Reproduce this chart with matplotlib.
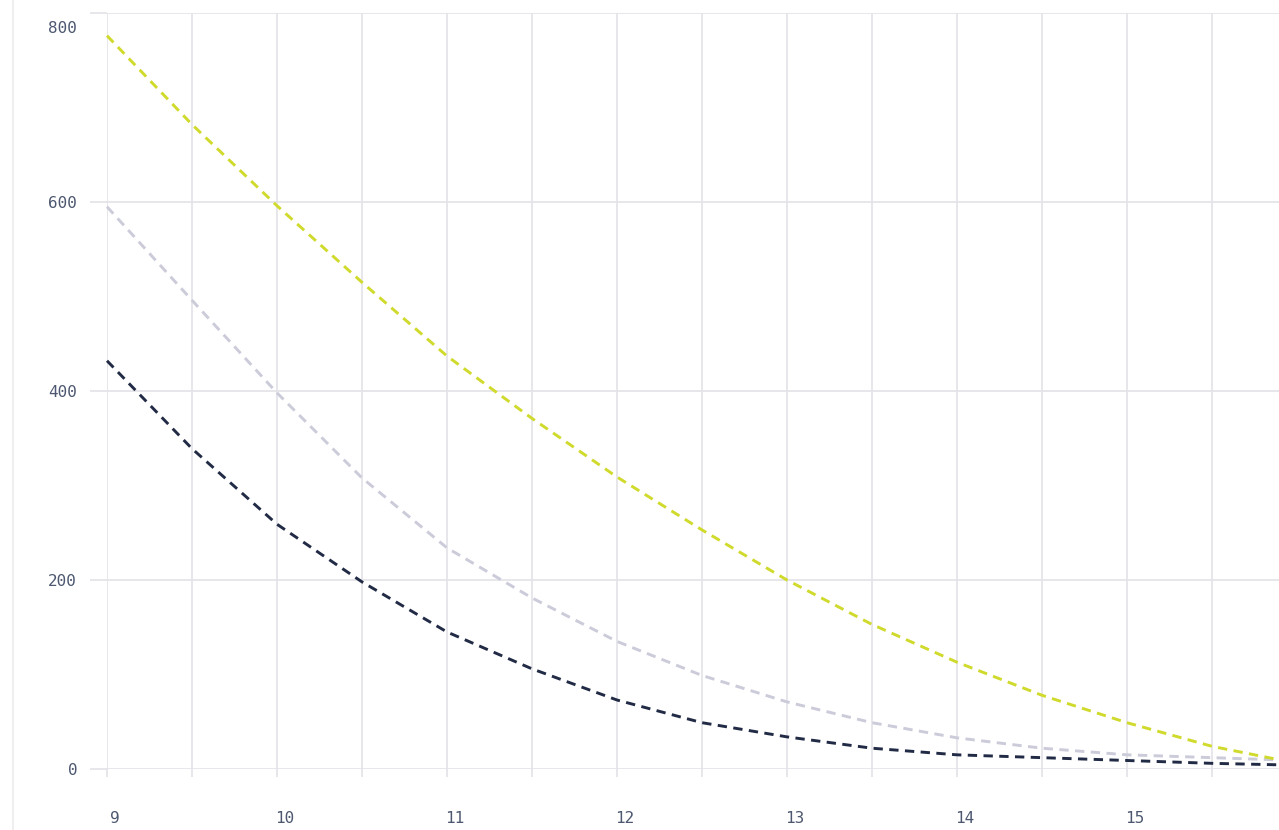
# Tres curvas discontinuas decrecientes, recorte de un gráfico mayor
import matplotlib.pyplot as plt
from matplotlib.ticker import MultipleLocator
import matplotlib.transforms as mtransforms

# datos (cada 0.5)
x_vals = [9, 9.5, 10, 10.5, 11, 11.5, 12, 12.5, 13, 13.5, 14, 14.5, 15, 15.5, 16]
serie_amarilla = [776, 682, 596, 515, 437, 371, 309, 253, 200, 153, 113, 78, 49, 24, 6]
serie_gris = [595, 496, 398, 308, 234, 181, 135, 99, 71, 49, 33, 22, 15, 12, 9]
serie_oscura = [432, 339, 259, 198, 145, 106, 73, 49, 34, 22, 15, 12, 9, 6, 4]

y_ticks = [0, 200, 400, 600, 800]
x_ticks = [9, 10, 11, 12, 13, 14, 15, 16]

color_grid = "#e3e3e8"
color_txt = "#4d5870"

fig = plt.figure(figsize=(12.79, 8.30), dpi=100)
# el eje se sale por la derecha (el 16 queda cortado)
ax = fig.add_axes([107 / 1279, 61 / 830, 1190 / 1279, 756 / 830])

lw = 2.1
ax.plot(x_vals, serie_gris, color="#cbcbda", lw=lw, dashes=(3.2, 2.2), clip_on=False)
ax.plot(x_vals, serie_oscura, color="#222b45", lw=lw, dashes=(3.2, 2.2), clip_on=False)
ax.plot(x_vals, serie_amarilla, color="#d0da2c", lw=lw, dashes=(3.2, 2.2), clip_on=False)

ax.set_xlim(9, 16)
ax.set_ylim(0, 800)
ax.set_xticks(x_ticks)
ax.xaxis.set_minor_locator(MultipleLocator(0.5))
ax.set_yticks(y_ticks)

for s in ax.spines.values():
    s.set_visible(False)

ax.grid(True, which="both", axis="x", color=color_grid, lw=1.2)
ax.grid(True, which="major", axis="y", color=color_grid, lw=1.2)
ax.set_axisbelow(True)

ax.tick_params(axis="x", which="both", length=6, width=1.2, color=color_grid,
               pad=24, labelsize=11.5, labelcolor=color_txt)
ax.tick_params(axis="y", length=12.5, width=1.2, color=color_grid,
               pad=9, labelsize=11.5, labelcolor=color_txt)

for lbl in ax.get_xticklabels() + ax.get_yticklabels():
    lbl.set_fontfamily("DejaVu Sans Mono")

# etiquetas x ligeramente desplazadas a la derecha
off = mtransforms.ScaledTranslation(8 / 100, 0, fig.dpi_scale_trans)
for lbl in ax.get_xticklabels():
    lbl.set_transform(lbl.get_transform() + off)

# la etiqueta 800 queda algo más abajo
off_top = mtransforms.ScaledTranslation(0, -14 / 100, fig.dpi_scale_trans)
top_lbl = ax.get_yticklabels()[-1]
top_lbl.set_transform(top_lbl.get_transform() + off_top)

# borde tenue del contenedor a la izquierda
fig.add_artist(plt.Line2D([13 / 1279, 13 / 1279], [0, 1], color="#ececf0", lw=1.2))

fig.savefig("out.png", dpi=100)
